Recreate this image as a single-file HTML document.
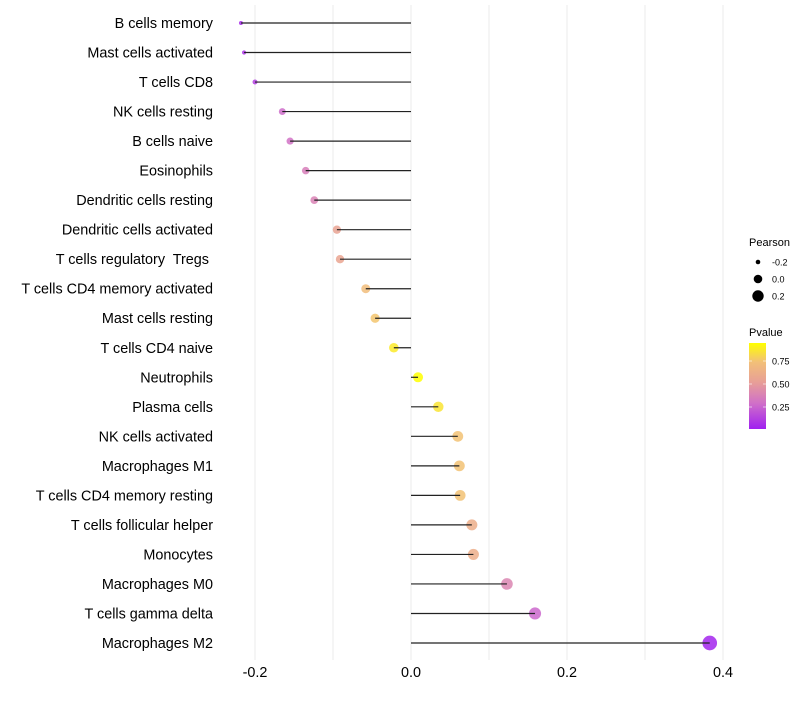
<!DOCTYPE html>
<html><head><meta charset="utf-8"><style>
body{margin:0;background:#fff;font-family:"Liberation Sans",sans-serif}
text{white-space:pre}
</style></head><body>
<svg id="c" width="800" height="700" xmlns="http://www.w3.org/2000/svg"></svg>
<script>
const categories=["B cells memory","Mast cells activated","T cells CD8","NK cells resting","B cells naive","Eosinophils","Dendritic cells resting","Dendritic cells activated","T cells regulatory  Tregs ","T cells CD4 memory activated","Mast cells resting","T cells CD4 naive","Neutrophils","Plasma cells","NK cells activated","Macrophages M1","T cells CD4 memory resting","T cells follicular helper","Monocytes","Macrophages M0","T cells gamma delta","Macrophages M2"];
const pearson=[-0.218,-0.214,-0.2,-0.165,-0.155,-0.135,-0.124,-0.095,-0.091,-0.058,-0.046,-0.022,0.009,0.035,0.060,0.062,0.063,0.078,0.080,0.123,0.159,0.383];
const pvalue=[0.05,0.08,0.12,0.28,0.3,0.36,0.38,0.55,0.56,0.72,0.76,0.88,0.95,0.86,0.75,0.75,0.75,0.62,0.62,0.4,0.26,0.03];
const xTicks=[-0.2,0,0.2,0.4];
const xTickLabels=["-0.2","0.0","0.2","0.4"];
const xMinor=[-0.1,0.1,0.3];
const svg=document.getElementById('c');const NS="http://www.w3.org/2000/svg";
const x=v=>411+v*780;
const y=i=>23+i*(620/21);
const rad=v=>v>=-0.165?Math.sqrt(24.5+76*v):2+(v+0.218)/0.053*1.46;
const stops=[[0,[160,32,240]],[0.3,[208,112,200]],[0.55,[232,160,150]],[0.78,[242,192,120]],[1,[255,255,0]]];
function col(p){let t=(p-0.01)/0.94;t=Math.max(0,Math.min(1,t));for(let k=1;k<stops.length;k++){if(t<=stops[k][0]){const a=stops[k-1],b=stops[k],f=(t-a[0])/(b[0]-a[0]);return 'rgb('+a[1].map((c,j)=>Math.round(c+(b[1][j]-c)*f)).join(',')+')';}}return 'rgb(255,255,0)';}
function el(tag,attrs,parent){const e=document.createElementNS(NS,tag);for(const k in attrs)e.setAttribute(k,attrs[k]);(parent||svg).appendChild(e);return e;}
[...xTicks,...xMinor].forEach(v=>{const g=el('line',{x1:x(v),x2:x(v),y1:5,y2:660,stroke:'#ebebeb','stroke-width':1});

});
xTicks.forEach((v,i)=>{const t=el('text',{x:x(v),y:677,'font-size':14.4,'text-anchor':'middle',fill:'#000'});t.textContent=xTickLabels[i];

});
categories.forEach((c,i)=>{
const t=el('text',{x:213,y:y(i)+5,'font-size':14.4,'text-anchor':'end',fill:'#000'});t.textContent=c;


const p=el('circle',{cx:x(pearson[i]),cy:y(i),r:rad(pearson[i]),fill:col(pvalue[i]),'fill-opacity':0.85});


const l=el('line',{x1:x(0),x2:x(pearson[i]),y1:y(i),y2:y(i),stroke:'#222','stroke-width':1.2});


});
const lt=el('text',{x:749,y:246,'font-size':11});lt.textContent='Pearson';


[[-0.2,262,2.3],[0,279,4.3],[0.2,296,5.7]].forEach(([v,yy,r])=>{const cc=el('circle',{cx:758,cy:yy,r:r,fill:'#000'});


const tt=el('text',{x:772,y:yy+3.5,'font-size':9});tt.textContent=v===0?'0.0':String(v);

});
const pt=el('text',{x:749,y:336,'font-size':11});pt.textContent='Pvalue';


const defs=el('defs',{});const lg=el('linearGradient',{id:'g',x1:0,y1:1,x2:0,y2:0},defs);
stops.forEach(s=>el('stop',{offset:s[0],'stop-color':'rgb('+s[1].join(',')+')'},lg));
const bar=el('rect',{x:749,y:343,width:17,height:86,fill:'url(#g)'});


[[0.25,407],[0.5,384],[0.75,361]].forEach(([v,yy])=>{el('line',{x1:749,x2:752,y1:yy,y2:yy,stroke:'#fff','stroke-opacity':0.6});el('line',{x1:763,x2:766,y1:yy,y2:yy,stroke:'#fff','stroke-opacity':0.6});
const tt=el('text',{x:772,y:yy+3.5,'font-size':9});tt.textContent=v.toFixed(2);

});
</script>
</body></html>
